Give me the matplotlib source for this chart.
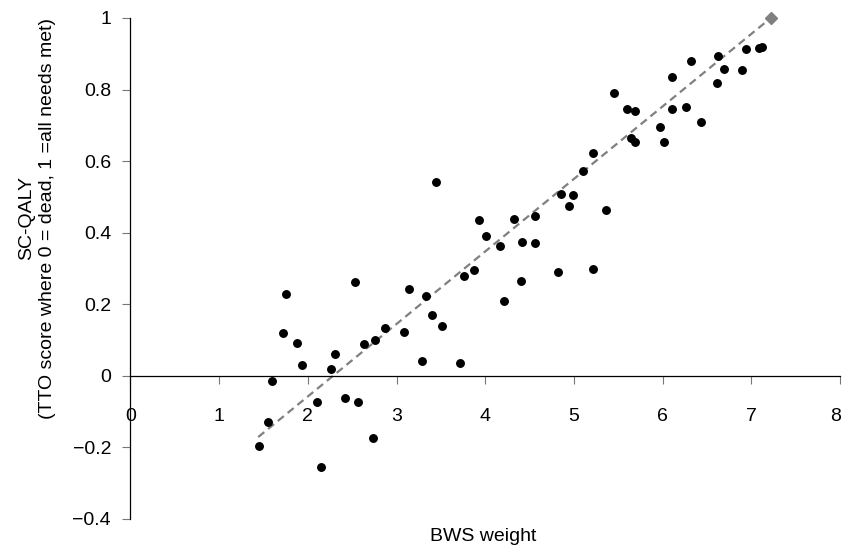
import matplotlib
matplotlib.use("Agg")
import matplotlib.pyplot as plt
from matplotlib.transforms import offset_copy

# BWS weight (x) vs SC-QALY (y)
bws_weight = [1.45, 1.55, 1.59, 1.72, 1.75, 1.88, 1.93, 2.10, 2.15, 2.26,
              2.31, 2.42, 2.53, 2.56, 2.63, 2.74, 2.76, 2.87, 3.08, 3.14,
              3.29, 3.33, 3.40, 3.44, 3.51, 3.71, 3.76, 3.87, 3.93, 4.01,
              4.17, 4.21, 4.32, 4.40, 4.41, 4.56, 4.56, 4.82, 4.85, 4.95,
              4.99, 5.10, 5.21, 5.22, 5.36, 5.45, 5.60, 5.64, 5.69, 5.69,
              5.97, 6.02, 6.11, 6.11, 6.26, 6.32, 6.43, 6.61, 6.62, 6.69,
              6.90, 6.94, 7.09, 7.12]
sc_qaly = [-0.195, -0.128, -0.013, 0.119, 0.229, 0.091, 0.029, -0.073, -0.256, 0.020,
           0.061, -0.061, 0.263, -0.072, 0.089, -0.175, 0.099, 0.135, 0.122, 0.244,
           0.042, 0.223, 0.170, 0.542, 0.138, 0.035, 0.279, 0.296, 0.435, 0.391,
           0.363, 0.209, 0.439, 0.266, 0.374, 0.448, 0.371, 0.289, 0.509, 0.476,
           0.506, 0.573, 0.299, 0.622, 0.463, 0.790, 0.747, 0.666, 0.739, 0.654,
           0.696, 0.654, 0.834, 0.745, 0.751, 0.880, 0.709, 0.819, 0.894, 0.857,
           0.855, 0.913, 0.915, 0.920]

# "all needs met" anchor point and the dashed trend line ends
perfect_x = [7.22]
perfect_y = [1.0]
trend_x = [1.44, 7.22]
trend_y = [-0.171, 1.0]

x_ticks = [0, 1, 2, 3, 4, 5, 6, 7, 8]
y_ticks = [-0.4, -0.2, 0, 0.2, 0.4, 0.6, 0.8, 1]
y_tick_labels = ["\u22120.4", "\u22120.2", "0", "0.2", "0.4", "0.6", "0.8", "1"]

plt.rcParams['font.family'] = ['Liberation Sans', 'DejaVu Sans']
plt.rcParams['font.size'] = 14

fig = plt.figure(figsize=(8.43, 5.52), dpi=100)
ax = fig.add_axes([0.1548, 0.0598, 0.8416, 0.9076])

ax.plot(trend_x, trend_y, color='#808080', linewidth=1.6, dashes=[3.5, 2.2], zorder=2)
ax.plot(bws_weight, sc_qaly, linestyle='none', marker='o', markersize=5.4,
        color='black', zorder=3)
ax.plot(perfect_x, perfect_y, linestyle='none', marker='D', markersize=6,
        color='#808080', clip_on=False, zorder=3)

ax.set_xlim(0, 8)
ax.set_ylim(-0.4, 1)
ax.set_xticks(x_ticks)
ax.set_xticklabels([str(t) for t in x_ticks])
ax.set_yticks(y_ticks)
ax.set_yticklabels(y_tick_labels)

ax.spines['top'].set_visible(False)
ax.spines['right'].set_visible(False)
ax.spines['bottom'].set_position(('data', 0))
for side in ['left', 'bottom']:
    ax.spines[side].set_linewidth(0.9)
    ax.spines[side].set_color('black')

ax.tick_params(axis='x', direction='out', length=6, width=0.8, color='#777777', pad=17)
ax.tick_params(axis='y', direction='out', length=6, width=0.8, color='#777777', pad=8)

# keep the last x label inside the picture, as in the original
last = ax.get_xticklabels()[-1]
last.set_transform(offset_copy(last.get_transform(), fig=fig, x=-4, y=0, units='dots'))

ax.set_xlabel('BWS weight')
ax.xaxis.set_label_coords(0.497, -0.017)
ax.set_ylabel('SC-QALY\n(TTO score where 0 = dead, 1 =all needs met)', linespacing=1.3)
ax.yaxis.set_label_coords(-0.105, 0.6)

fig.savefig('out.png', dpi=100)
